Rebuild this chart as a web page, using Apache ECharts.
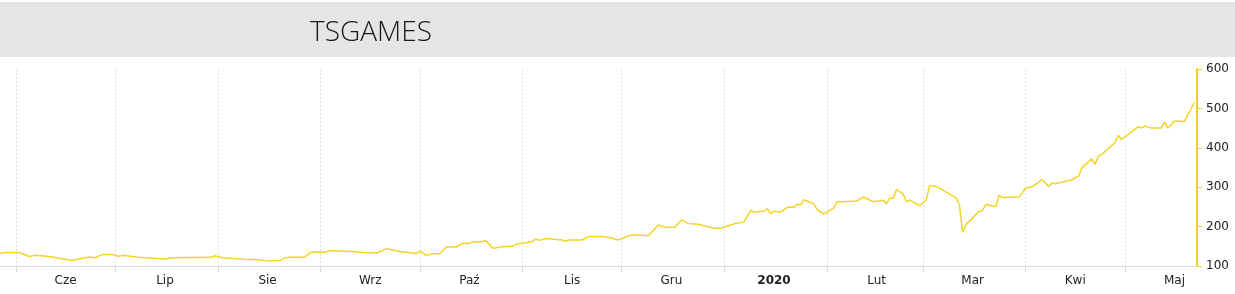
<!DOCTYPE html>
<html>
<head>
<meta charset="utf-8">
<script src="https://cdn.jsdelivr.net/npm/echarts@6/dist/echarts.min.js"></script>
<style>
html,body{margin:0;padding:0;background:#fff;}
#main{width:1235px;height:294px;}
</style>
</head>
<body>
<div id="main"></div>
<script>
const titleText = 'TSGAMES';
const monthLabels = ['Cze','Lip','Sie','Wrz','Paź','Lis','Gru','2020','Lut','Mar','Kwi','Maj'];
const monthStarts = ['2019-06-01','2019-07-01','2019-08-01','2019-09-01','2019-10-01','2019-11-01','2019-12-01','2020-01-01','2020-02-01','2020-03-01','2020-04-01','2020-05-01'];
const labelDates = ['2019-06-16','2019-07-16','2019-08-16','2019-09-16','2019-10-16','2019-11-16','2019-12-16','2020-01-16','2020-02-16','2020-03-16','2020-04-16','2020-05-16'];

const dates = [
'2019-05-27','2019-05-29','2019-06-02','2019-06-03','2019-06-05','2019-06-07','2019-06-11','2019-06-18','2019-06-23','2019-06-25',
'2019-06-27','2019-06-30','2019-07-02','2019-07-03','2019-07-08','2019-07-16','2019-07-18','2019-07-30','2019-07-31','2019-08-03',
'2019-08-09','2019-08-13','2019-08-16','2019-08-20','2019-08-21','2019-08-23','2019-08-27','2019-08-29','2019-08-30','2019-09-02',
'2019-09-04','2019-09-11','2019-09-14','2019-09-18','2019-09-21','2019-09-25','2019-09-30','2019-10-01','2019-10-03','2019-10-05',
'2019-10-07','2019-10-09','2019-10-12','2019-10-14','2019-10-16','2019-10-17','2019-10-19','2019-10-21','2019-10-23','2019-10-26',
'2019-10-29','2019-10-30','2019-11-02','2019-11-04','2019-11-05','2019-11-06','2019-11-08','2019-11-13','2019-11-14','2019-11-15',
'2019-11-19','2019-11-21','2019-11-25','2019-11-28','2019-11-30','2019-12-04','2019-12-09','2019-12-10','2019-12-12','2019-12-14',
'2019-12-17','2019-12-19','2019-12-21','2019-12-24','2019-12-29','2019-12-31','2020-01-04','2020-01-07','2020-01-09','2020-01-10',
'2020-01-13','2020-01-14','2020-01-15','2020-01-16','2020-01-18','2020-01-20','2020-01-22','2020-01-23','2020-01-24','2020-01-25',
'2020-01-28','2020-01-29','2020-01-31','2020-02-01','2020-02-03','2020-02-04','2020-02-06','2020-02-10','2020-02-12','2020-02-15',
'2020-02-18','2020-02-19','2020-02-20','2020-02-21','2020-02-22','2020-02-24','2020-02-25','2020-02-26','2020-02-29','2020-03-02',
'2020-03-03','2020-03-05','2020-03-11','2020-03-12','2020-03-13','2020-03-14','2020-03-18','2020-03-19','2020-03-20','2020-03-23',
'2020-03-24','2020-03-25','2020-03-30','2020-03-31','2020-04-01','2020-04-03','2020-04-06','2020-04-08','2020-04-09','2020-04-10',
'2020-04-15','2020-04-17','2020-04-18','2020-04-21','2020-04-22','2020-04-23','2020-04-24','2020-04-28','2020-04-29','2020-04-30',
'2020-05-05','2020-05-06','2020-05-07','2020-05-09','2020-05-12','2020-05-13','2020-05-14','2020-05-16','2020-05-19','2020-05-22'
];
const prices = [
132,134,134,131,124,127,124,114,123,121,
129,129,125,127,122,118,121,122,126,120,
117,116,113,114,120,123,122,134,136,135,
139,137,134,133,144,137,132,138,127,131,
131,148,148,158,157,162,161,164,145,149,
150,155,159,162,169,165,170,166,163,166,
166,175,175,171,166,179,177,185,204,199,
198,217,208,206,196,196,207,212,242,237,
239,246,233,239,237,249,249,257,255,268,
258,243,232,237,247,263,263,265,275,263,
267,258,273,271,294,283,263,267,253,268,
304,302,273,256,185,205,239,241,256,251,
279,274,275,285,298,301,319,302,311,309,
319,328,349,372,358,379,383,413,432,421,
453,451,455,450,450,466,450,468,467,515
];

function ts(s){ const p = s.split('-').map(Number); return Date.UTC(p[0], p[1]-1, p[2]); }
const xMin = Date.UTC(2019,4,27,4);
const xMax = Date.UTC(2020,4,22,19);
const seriesData = dates.map((d,i)=>[ts(d), prices[i]]);

const chart = echarts.init(document.getElementById('main'), null, {renderer:'canvas'});
chart.setOption({
  animation:false,
  backgroundColor:'#fff',
  graphic:[{type:'rect', z:-10, shape:{x:0,y:2,width:1235,height:55}, style:{fill:'#e5e5e5'}}],
  title:{text:titleText, left:305, top:14, textStyle:{fontFamily:'Open Sans', fontWeight:300, fontSize:28, color:'#1a1a1a'}},
  grid:{left:0, right:38, top:69, bottom:28, containLabel:false},
  xAxis:[{
    type:'value', min:xMin, max:xMax, scale:true,
    axisLine:{show:true, lineStyle:{color:'#dcdcdc', width:1}},
    axisTick:{show:true, length:6, lineStyle:{color:'#dcdcdc'}, customValues: monthStarts.map(ts)},
    splitLine:{show:true, lineStyle:{color:'#e0e0e0', type:[2,2], width:1}},
    axisLabel:{show:false, customValues: monthStarts.map(ts)}
  },{
    type:'value', min:xMin, max:xMax, scale:true, position:'bottom',
    axisLine:{show:false}, axisTick:{show:false}, splitLine:{show:false},
    axisLabel:{show:true, customValues: labelDates.map(ts), margin:9, color:'#222', fontFamily:'DejaVu Sans', fontSize:12, hideOverlap:false,
      formatter:function(v){ const d=new Date(v); const idx=(d.getUTCFullYear()-2019)*12+d.getUTCMonth()-5; return idx===7 ? '{b|'+monthLabels[idx]+'}' : monthLabels[idx]; },
      rich:{b:{fontWeight:'bold', fontFamily:'DejaVu Sans', fontSize:12, color:'#222'}}}
  }],
  yAxis:{
    type:'value', position:'right', min:100, max:600, interval:100,
    axisLine:{show:true, lineStyle:{color:'#f6d21e', width:2}},
    axisTick:{show:true, length:5, lineStyle:{color:'#f6d21e', width:1}},
    splitLine:{show:false},
    axisLabel:{color:'#222', fontFamily:'DejaVu Sans', fontSize:12, margin:9}
  },
  series:[{type:'line', xAxisIndex:0, data:seriesData, showSymbol:false, symbol:'none',
    lineStyle:{color:'#f5d327', width:1.5}, z:5}]
});
</script>
</body>
</html>
